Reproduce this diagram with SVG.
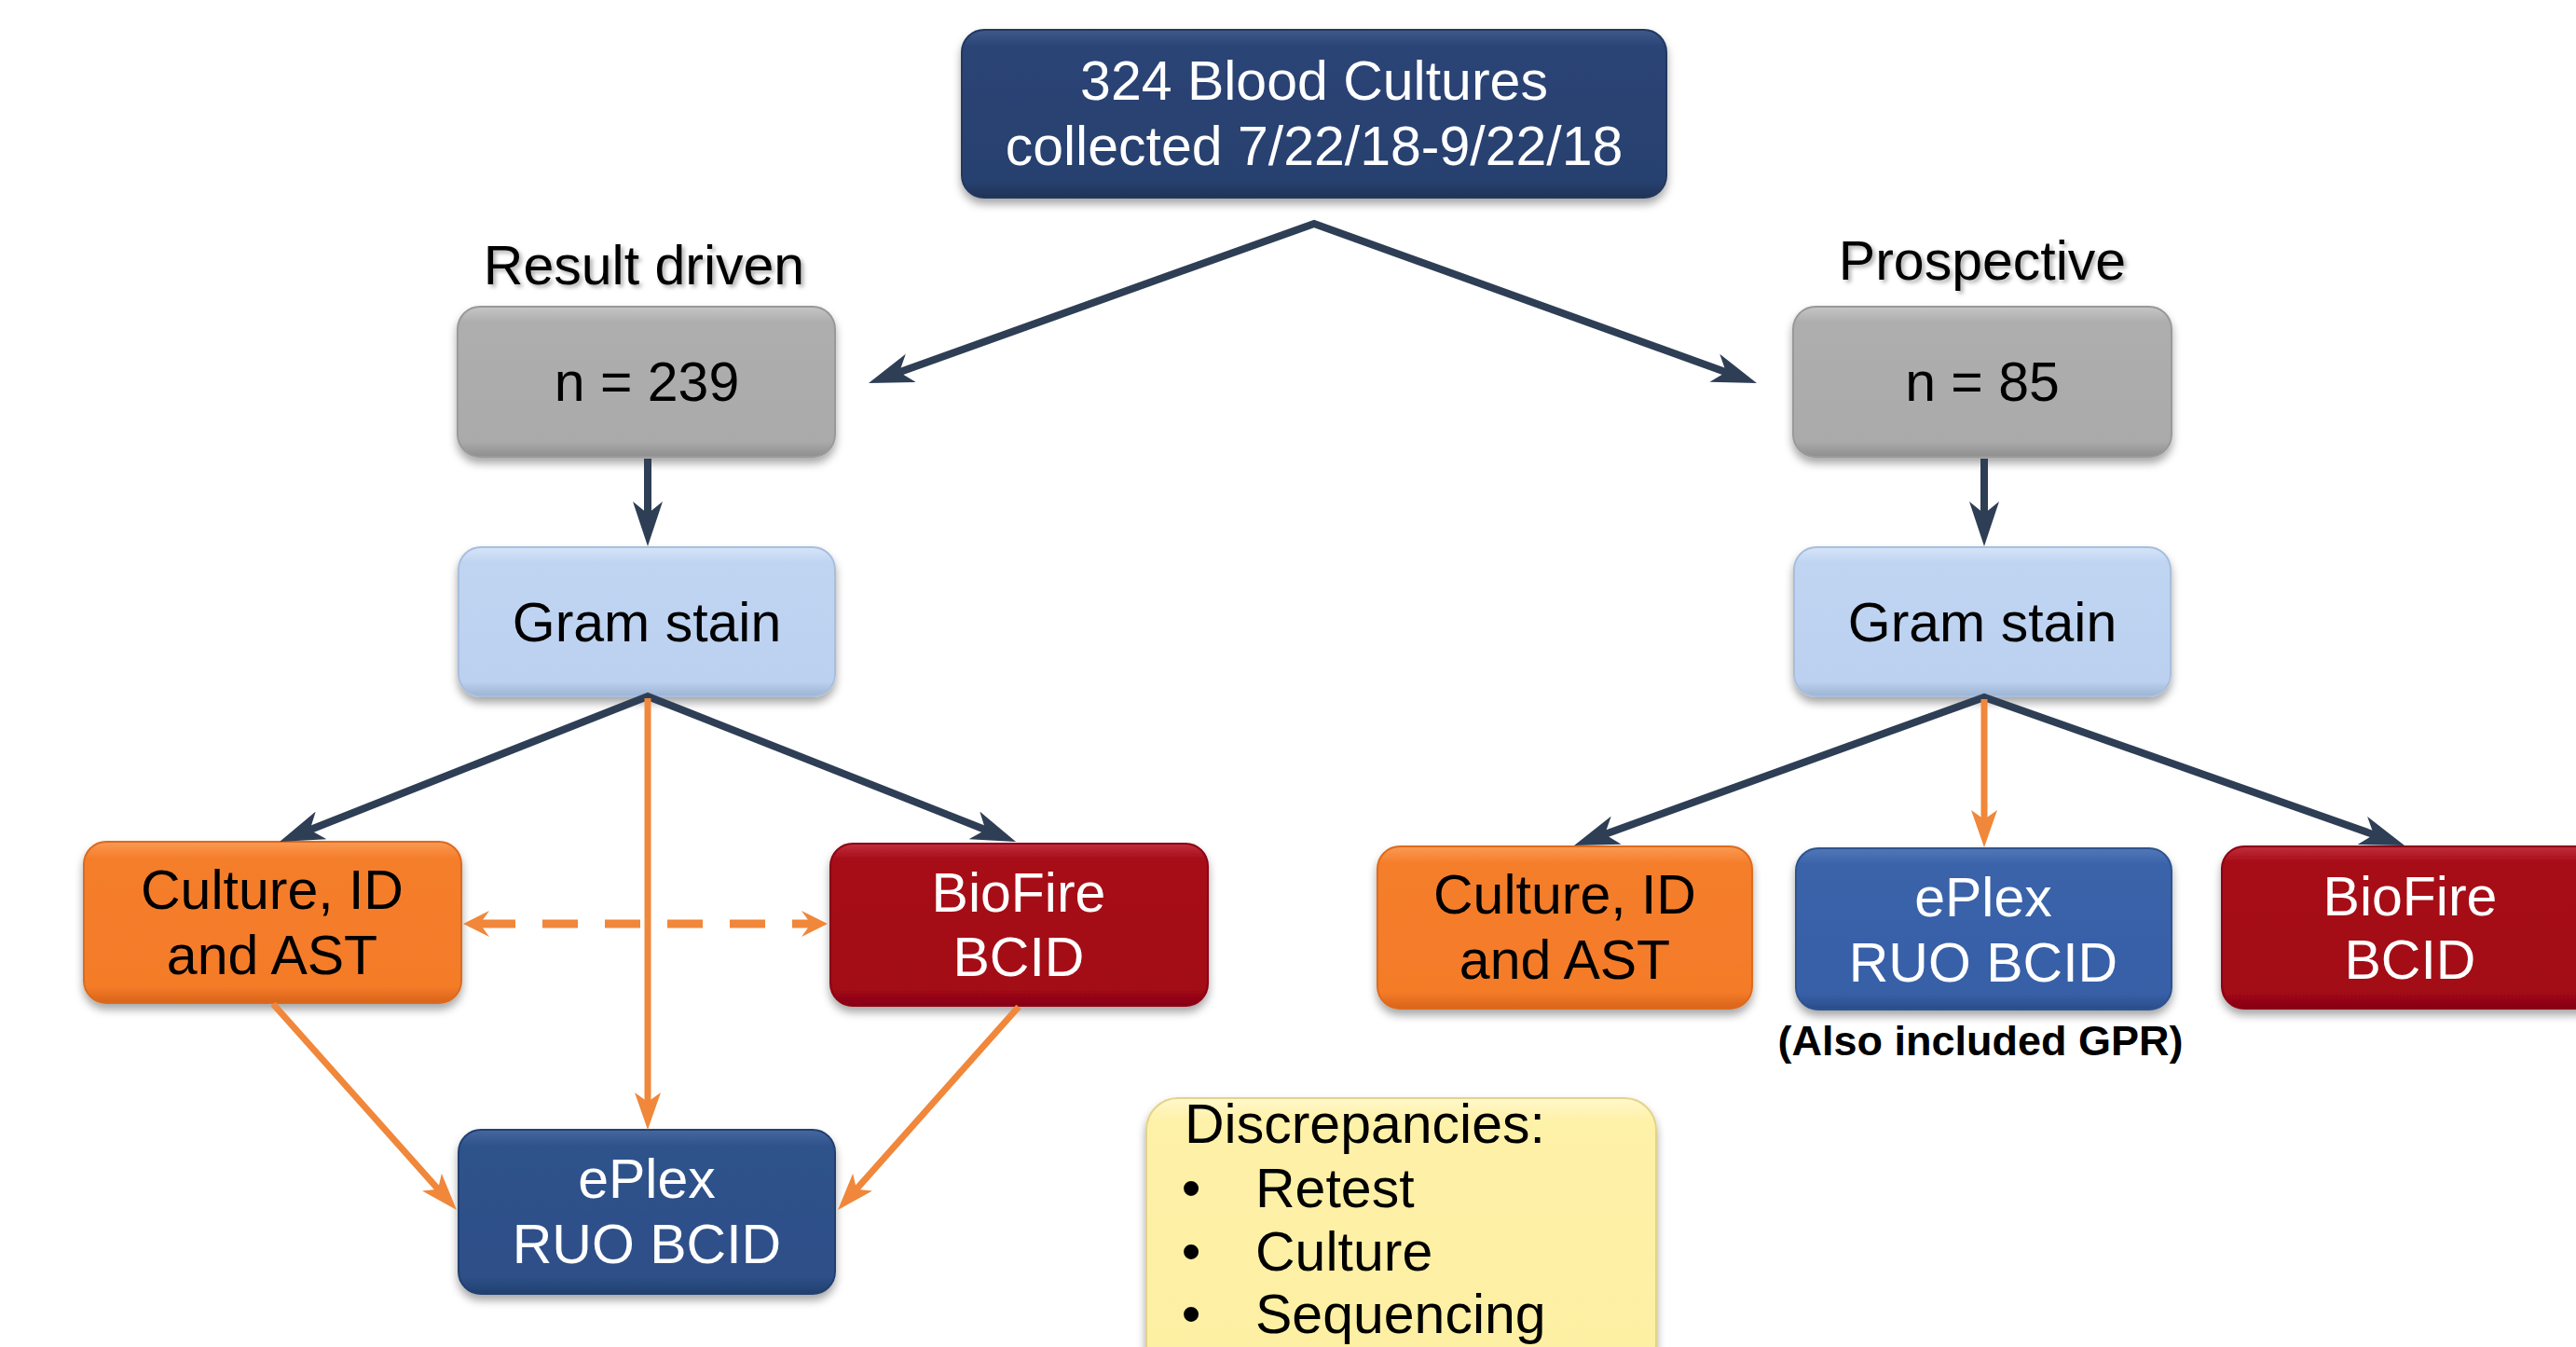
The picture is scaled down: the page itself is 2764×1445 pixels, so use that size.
<svg xmlns="http://www.w3.org/2000/svg" width="2764" height="1445" viewBox="0 0 2764 1445">
<defs>
<style>
text{font-family:"Liberation Sans",Arial,sans-serif;font-size:59px;text-anchor:middle}
.w{fill:#ffffff}
.k{fill:#000000}
.box{filter:url(#sh);stroke-width:2}
.dark{fill:none;stroke:#2E3E55;stroke-width:8;stroke-linejoin:miter;stroke-miterlimit:20}
.or{fill:none;stroke:#F0873A;stroke-width:7}
.dash{fill:none;stroke:#F0873A;stroke-width:9;stroke-dasharray:38 29}
.lbl{filter:url(#tsh)}
</style>
<filter id="sh" x="-10%" y="-10%" width="120%" height="135%">
<feDropShadow dx="0" dy="6" stdDeviation="5" flood-color="#000" flood-opacity="0.35"/>
</filter>
<filter id="tsh" x="-10%" y="-20%" width="120%" height="150%">
<feDropShadow dx="3" dy="3" stdDeviation="2" flood-color="#000" flood-opacity="0.3"/>
</filter>
<linearGradient id="gNavy" x1="0" y1="0" x2="0" y2="1"><stop offset="0" stop-color="#3D5A8C"/><stop offset="0.1" stop-color="#2A4475"/><stop offset="0.9" stop-color="#28416F"/><stop offset="1" stop-color="#1E3358"/></linearGradient>
<linearGradient id="gGray" x1="0" y1="0" x2="0" y2="1"><stop offset="0" stop-color="#C6C6C6"/><stop offset="0.1" stop-color="#AEAEAE"/><stop offset="0.9" stop-color="#AAAAAA"/><stop offset="1" stop-color="#8E8E8E"/></linearGradient>
<linearGradient id="gGram" x1="0" y1="0" x2="0" y2="1"><stop offset="0" stop-color="#D6E4F8"/><stop offset="0.1" stop-color="#C0D5F2"/><stop offset="0.9" stop-color="#BCD1EF"/><stop offset="1" stop-color="#9DB3D3"/></linearGradient>
<linearGradient id="gOrange" x1="0" y1="0" x2="0" y2="1"><stop offset="0" stop-color="#F99A55"/><stop offset="0.1" stop-color="#F57E2B"/><stop offset="0.9" stop-color="#F47B28"/><stop offset="1" stop-color="#D8631A"/></linearGradient>
<linearGradient id="gRed" x1="0" y1="0" x2="0" y2="1"><stop offset="0" stop-color="#C0303C"/><stop offset="0.1" stop-color="#A70A18"/><stop offset="0.9" stop-color="#A30716"/><stop offset="1" stop-color="#850511"/></linearGradient>
<linearGradient id="gEplexL" x1="0" y1="0" x2="0" y2="1"><stop offset="0" stop-color="#4568A0"/><stop offset="0.1" stop-color="#2F528B"/><stop offset="0.9" stop-color="#2D4F88"/><stop offset="1" stop-color="#223F6E"/></linearGradient>
<linearGradient id="gEplexR" x1="0" y1="0" x2="0" y2="1"><stop offset="0" stop-color="#5178B8"/><stop offset="0.1" stop-color="#3A63AA"/><stop offset="0.9" stop-color="#3860A7"/><stop offset="1" stop-color="#2A4D8A"/></linearGradient>
<linearGradient id="gYellow" x1="0" y1="0" x2="0" y2="1"><stop offset="0" stop-color="#FFF8CC"/><stop offset="0.08" stop-color="#FEF1A8"/><stop offset="1" stop-color="#FDEFA2"/></linearGradient>
<marker id="aDark" viewBox="0 0 48 32" refX="24" refY="16" markerWidth="48" markerHeight="32" markerUnits="userSpaceOnUse" orient="auto-start-reverse">
<path d="M0,0 L48,16 L0,32 L13,16 Z" fill="#2E3E55"/>
</marker>
<marker id="aOr" viewBox="0 0 40 28" refX="20" refY="14" markerWidth="40" markerHeight="28" markerUnits="userSpaceOnUse" orient="auto-start-reverse">
<path d="M0,0 L40,14 L0,28 L10,14 Z" fill="#F0873A"/>
</marker>
<marker id="aDash" viewBox="0 0 28 28" refX="10" refY="14" markerWidth="28" markerHeight="28" markerUnits="userSpaceOnUse" orient="auto-start-reverse">
<path d="M0,0 L28,14 L0,28 L10,14 Z" fill="#F0873A"/>
</marker>
</defs>
<rect x="0" y="0" width="2764" height="1445" fill="#ffffff"/>

<g id="top">
<rect class="box" x="1032" y="32" width="756" height="180" rx="24" fill="url(#gNavy)" stroke="#22385F"/>
<text class="w" x="1410" y="107">324 Blood Cultures</text>
<text class="w" x="1410" y="177">collected 7/22/18-9/22/18</text>
</g>

<g id="label-result">
<text class="k lbl" x="691" y="305">Result driven</text>
</g>
<g id="label-prospective">
<text class="k lbl" x="2127" y="300">Prospective</text>
</g>

<g id="n239">
<rect class="box" x="491" y="329" width="405" height="161" rx="24" fill="url(#gGray)" stroke="#999"/>
<text class="k" x="694" y="430">n = 239</text>
</g>
<g id="n85">
<rect class="box" x="1924" y="329" width="406" height="161" rx="24" fill="url(#gGray)" stroke="#999"/>
<text class="k" x="2127" y="430">n = 85</text>
</g>

<g id="gram-left">
<rect class="box" x="492" y="587" width="404" height="160" rx="24" fill="url(#gGram)" stroke="#A8BEDD"/>
<text class="k" x="694" y="688">Gram stain</text>
</g>
<g id="gram-right">
<rect class="box" x="1925" y="587" width="404" height="160" rx="24" fill="url(#gGram)" stroke="#A8BEDD"/>
<text class="k" x="2127" y="688">Gram stain</text>
</g>

<g id="culture-left">
<rect class="box" x="90" y="903" width="405" height="173" rx="24" fill="url(#gOrange)" stroke="#DD6A1E"/>
<text class="k" x="292" y="975">Culture, ID</text>
<text class="k" x="292" y="1045">and AST</text>
</g>
<g id="biofire-left">
<rect class="box" x="891" y="905" width="405" height="174" rx="24" fill="url(#gRed)" stroke="#8C0612"/>
<text class="w" x="1093" y="978">BioFire</text>
<text class="w" x="1093" y="1047">BCID</text>
</g>
<g id="eplex-left">
<rect class="box" x="492" y="1212" width="404" height="176" rx="24" fill="url(#gEplexL)" stroke="#24416F"/>
<text class="w" x="694" y="1285">ePlex</text>
<text class="w" x="694" y="1355">RUO BCID</text>
</g>

<g id="culture-right">
<rect class="box" x="1478" y="908" width="402" height="174" rx="24" fill="url(#gOrange)" stroke="#DD6A1E"/>
<text class="k" x="1679" y="980">Culture, ID</text>
<text class="k" x="1679" y="1050">and AST</text>
</g>
<g id="eplex-right">
<rect class="box" x="1927" y="910" width="403" height="173" rx="24" fill="url(#gEplexR)" stroke="#2D528F"/>
<text class="w" x="2128" y="983">ePlex</text>
<text class="w" x="2128" y="1053">RUO BCID</text>
</g>
<g id="biofire-right">
<rect class="box" x="2384" y="908" width="405" height="174" rx="24" fill="url(#gRed)" stroke="#8C0612"/>
<text class="w" x="2586" y="982">BioFire</text>
<text class="w" x="2586" y="1050">BCID</text>
</g>
<g id="gpr-note">
<text class="k" x="2125" y="1132" style="font-size:45px;font-weight:bold">(Also included GPR)</text>
</g>

<g id="discrepancies">
<rect class="box" x="1230" y="1178" width="547" height="300" rx="34" fill="url(#gYellow)" stroke="#E3D38A"/>
<text class="k" x="1271" y="1226" style="text-anchor:start">Discrepancies:</text>
<text class="k" x="1278" y="1295">•</text>
<text class="k" x="1347" y="1295" style="text-anchor:start">Retest</text>
<text class="k" x="1278" y="1363">•</text>
<text class="k" x="1347" y="1363" style="text-anchor:start">Culture</text>
<text class="k" x="1278" y="1430">•</text>
<text class="k" x="1347" y="1430" style="text-anchor:start">Sequencing</text>
</g>

<g id="connectors">
<path class="dark" d="M954.6,402.9 L1410,240 L1862.4,402.9" marker-start="url(#aDark)" marker-end="url(#aDark)"/>
<path class="dark" d="M695,492 L695,562" marker-end="url(#aDark)"/>
<path class="dark" d="M2129,492 L2129,562" marker-end="url(#aDark)"/>
<path class="dark" d="M322.3,894.2 L695,747 L1067.7,894.2" marker-start="url(#aDark)" marker-end="url(#aDark)"/>
<path class="dark" d="M1711.6,898.8 L2129,748 L2557.4,899" marker-start="url(#aDark)" marker-end="url(#aDark)"/>
<path class="or" d="M695,749 L695,1192" marker-end="url(#aOr)"/>
<path class="or" d="M2129,750 L2129,889" marker-end="url(#aOr)"/>
<path class="or" d="M293,1077 L476.7,1283.1" marker-end="url(#aOr)"/>
<path class="or" d="M1093,1080 L912.3,1283.1" marker-end="url(#aOr)"/>
<path class="dash" d="M515,991 L870,991" marker-start="url(#aDash)" marker-end="url(#aDash)"/>
</g>
</svg>
